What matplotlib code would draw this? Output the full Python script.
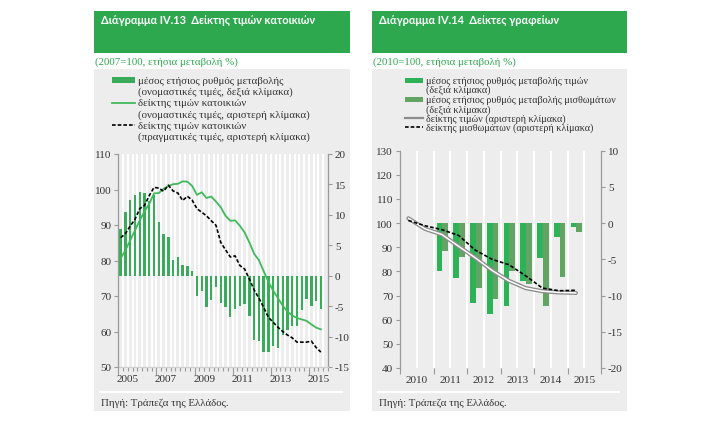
import numpy as np
import matplotlib.pyplot as plt
from matplotlib.patches import Rectangle
from matplotlib.lines import Line2D

plt.rcParams['font.family'] = ['Liberation Serif', 'DejaVu Serif']
plt.rcParams['font.size'] = 8
plt.rcParams['axes.unicode_minus'] = False

# ---- chart IV.13: house prices, quarterly 2005Q1 - 2015Q3
house_start = 2005
house_yoy = [7.7, 10.5, 12.4, 13.2, 13.7, 13.6, 12.2, 13.3, 8.9, 6.8, 6.4, 2.6, 3.0,
             1.7, 1.6, 0.8, -3.3, -2.5, -5.1, -4.0, -1.8, -4.5, -5.1, -6.8, -5.4,
             -5.0, -4.6, -6.6, -10.5, -10.8, -12.6, -12.6, -11.5, -11.9, -9.8, -9.0,
             -8.2, -8.2, -5.6, -3.9, -4.9, -4.2, -5.5]
house_nominal = [80.6, 82.9, 85.7, 88.5, 91.3, 93.8, 96.0, 98.9, 99.0, 100.2, 101.0,
                 101.5, 101.6, 102.3, 102.2, 101.0, 98.5, 99.2, 97.6, 98.0, 96.6,
                 95.0, 92.6, 91.2, 91.3, 89.8, 87.9, 85.1, 81.9, 80.1, 77.0, 74.0,
                 71.5, 69.4, 67.3, 65.6, 64.5, 63.8, 63.4, 63.0, 62.0, 61.1, 60.6]
house_real = [86.4, 87.6, 89.7, 91.6, 94.6, 95.5, 98.3, 100.6, 100.4, 99.5, 101.2,
              99.6, 99.0, 96.9, 98.1, 97.0, 94.6, 93.6, 92.6, 91.2, 89.9, 85.1, 83.0,
              81.0, 81.3, 78.6, 77.6, 74.8, 71.7, 69.4, 66.8, 64.0, 62.6, 61.2, 60.0,
              59.0, 58.2, 57.0, 57.0, 57.0, 57.3, 55.5, 54.2]
house_years = [2005, 2007, 2009, 2011, 2013, 2015]

# ---- chart IV.14: offices, half-yearly
office_start = 2010            # first half-year of the indices
office_price_idx = [102.0, 97.6, 95.3, 90.4, 85.6, 80.4, 76.1, 73.1, 71.8, 71.3, 71.1]
office_rent_idx = [101.1, 98.9, 97.3, 94.9, 88.8, 85.0, 82.8, 78.2, 73.1, 72.0, 72.2]
office_bar_start = 2011        # first half-year of the rates of change
office_price_chg = [-6.6, -7.6, -11.0, -12.6, -11.5, -8.0, -4.8, -1.9, -0.6]
office_rent_chg = [-3.8, -4.7, -8.9, -10.5, -6.6, -8.4, -11.5, -7.4, -1.2]
office_years = [2010, 2011, 2012, 2013, 2014, 2015]

W, H = 713, 427
HEAD = '#2ea84f'
PANEL = '#ededed'
BAR = '#3aab5b'
LINE = '#40b95c'
PRICE = '#2db257'
RENT = '#62a463'
SPINE = '#9a9a9a'
TXT = '#333333'


def px(x, y):
    return x / W, 1 - y / H


def rect(fig, x0, y0, x1, y1, color, z=-2):
    fig.add_artist(Rectangle(px(x0, y1), (x1 - x0) / W, (y1 - y0) / H,
                             transform=fig.transFigure, color=color, lw=0, zorder=z))


def fline(fig, x0, x1, y, **kw):
    fig.add_artist(Line2D([x0 / W, x1 / W], [1 - y / H, 1 - y / H],
                          transform=fig.transFigure, **kw))


fig = plt.figure(figsize=(W / 100, H / 100), dpi=100)

for left, right, title, sub in [
        (94.3, 350, 'Διάγραμμα IV.13  Δείκτης τιμών κατοικιών', '(2007=100, ετήσια μεταβολή %)'),
        (371.7, 626.7, 'Διάγραμμα IV.14  Δείκτες γραφείων', '(2010=100, ετήσια μεταβολή %)')]:
    rect(fig, left, 11.7, right, 54, HEAD)
    rect(fig, left, 70, right, 412.3, PANEL)
    fig.text(*px(left + 6.8, 21), title, color='white', family='Lato',
             weight='bold', fontsize=7.9, va='center')
    fig.text(*px(left + 1, 62), sub, color=HEAD, fontsize=7.8, va='center')
    fline(fig, left + 6, right - 8, 393.3, color='white', lw=1.6)
    fig.text(*px(left + 7, 403.3), 'Πηγή: Τράπεζα της Ελλάδος.', color=TXT,
             fontsize=7.8, va='center')

# legend of IV.13
rect(fig, 111.7, 78.3, 135, 83.5, BAR, z=3)
fline(fig, 111.7, 135, 103.6, color=LINE, lw=1.3, zorder=3)
fline(fig, 111.7, 135, 126.3, color='black', lw=1.2, ls=(0, (2.2, 1.2)), zorder=3)
for y, s in zip([81, 92.3, 103.6, 115, 126.3, 137.6],
                ['μέσος ετήσιος ρυθμός μεταβολής', '(ονομαστικές τιμές, δεξιά κλίμακα)',
                 'δείκτης τιμών κατοικιών', '(ονομαστικές τιμές, αριστερή κλίμακα)',
                 'δείκτης τιμών κατοικιών', '(πραγματικές τιμές, αριστερή κλίμακα)']):
    fig.text(*px(138.5, y), s, color=TXT, fontsize=7.8, va='center')

# legend of IV.14
rect(fig, 405, 78.5, 423.3, 83.5, PRICE, z=3)
rect(fig, 405, 98, 423.3, 103, RENT, z=3)
fline(fig, 405, 423.3, 119.2, color='#8c8c8c', lw=1.6, zorder=3)
fline(fig, 405, 423.3, 127.8, color='black', lw=1.2, ls=(0, (2.2, 1.2)), zorder=3)
for y, s in zip([81, 90.6, 100.4, 110, 119.2, 127.8],
                ['μέσος ετήσιος ρυθμός μεταβολής τιμών', '(δεξιά κλίμακα)',
                 'μέσος ετήσιος ρυθμός μεταβολής μισθωμάτων', '(δεξιά κλίμακα)',
                 'δείκτης τιμών (αριστερή κλίμακα)', 'δείκτης μισθωμάτων (αριστερή κλίμακα)']):
    fig.text(*px(425.5, y), s, color=TXT, fontsize=7.3, va='center')


def style(ax):
    ax.patch.set_visible(False)
    for s in ax.spines.values():
        s.set_visible(False)
        s.set_color(SPINE)
        s.set_linewidth(0.9)
    ax.tick_params(colors=SPINE, labelcolor=TXT, labelsize=8, direction='out', width=0.8)


# ---------- IV.13
pos1 = [118.3 / W, 1 - 368 / H, 209.7 / W, 213 / H]
ax_b = fig.add_axes(pos1)
ax_l = fig.add_axes(pos1)
style(ax_b)
style(ax_l)
hx = house_start + (np.arange(len(house_yoy)) + 0.5) / 4
for q in np.arange(2005.25, 2016, 0.25):
    ax_b.axvline(q, color='white', lw=1.4, zorder=1)
ax_b.bar(hx, house_yoy, width=0.125, color=BAR, zorder=2)
ax_b.set_xlim(2005, 2016)
ax_b.set_ylim(-15, 20)
ax_b.set_yticks(range(-15, 21, 5))
ax_b.yaxis.tick_right()
ax_b.tick_params(axis='y', length=3, pad=2)
ax_b.spines['right'].set_visible(True)
ax_b.spines['bottom'].set_visible(True)
ax_b.spines['bottom'].set_color('#d0d0d0')
ax_b.set_xticks(range(2005, 2016, 2))
ax_b.set_xticks(np.arange(2005, 2016.01, 0.25), minor=True)
ax_b.tick_params(axis='x', which='major', length=6, labelbottom=False)
ax_b.tick_params(axis='x', which='minor', length=3, color=SPINE, width=0.8)

ax_l.plot(hx, house_nominal, color=LINE, lw=1.3, zorder=3)
ax_l.plot(hx, house_real, color='black', lw=1.2, ls=(0, (2.2, 1.2)), zorder=4)
ax_l.set_xlim(2005, 2016)
ax_l.set_ylim(50, 110)
ax_l.set_yticks(range(50, 111, 10))
ax_l.spines['left'].set_visible(True)
ax_l.tick_params(axis='y', length=3, pad=2)
ax_l.set_xticks([y + 0.5 for y in house_years])
ax_l.set_xticklabels([str(y) for y in house_years])
ax_l.tick_params(axis='x', length=0, pad=5)

# ---------- IV.14
pos2 = [400 / W, 1 - 369 / H, 201 / W, 217.3 / H]
ax_rb = fig.add_axes(pos2)
ax_rl = fig.add_axes(pos2)
style(ax_rb)
style(ax_rl)
for g in np.arange(2010.5, 2016, 0.5):
    ax_rb.axvline(g, color='white', lw=1.5, zorder=1)
bx = office_bar_start + (np.arange(len(office_price_chg)) + 0.5) / 2
ax_rb.bar(bx - 0.07, office_price_chg, width=0.17, color=PRICE, zorder=2)
ax_rb.bar(bx + 0.10, office_rent_chg, width=0.17, color=RENT, zorder=2)
ax_rb.set_xlim(2010, 2016)
ax_rb.set_ylim(-20, 10)
ax_rb.set_yticks(range(-20, 11, 5))
ax_rb.yaxis.tick_right()
ax_rb.tick_params(axis='y', length=3, pad=2)
ax_rb.spines['right'].set_visible(True)
ax_rb.set_xticks(range(2010, 2017))
ax_rb.tick_params(axis='x', length=4, labelbottom=False)

lx = office_start + (np.arange(len(office_price_idx)) + 0.5) / 2
ax_rl.plot(lx, office_price_idx, color='#8c8c8c', lw=3.0, zorder=3,
           solid_capstyle='round', solid_joinstyle='round')
ax_rl.plot(lx, office_price_idx, color='white', lw=1.1, zorder=3.5,
           solid_capstyle='round', solid_joinstyle='round')
ax_rl.plot(lx, office_rent_idx, color='black', lw=1.2, ls=(0, (2.2, 1.2)), zorder=4)
ax_rl.set_xlim(2010, 2016)
ax_rl.set_ylim(40, 130)
ax_rl.set_yticks(range(40, 131, 10))
ax_rl.spines['left'].set_visible(True)
ax_rl.tick_params(axis='y', length=3, pad=2)
ax_rl.set_xticks([y + 0.5 for y in office_years])
ax_rl.set_xticklabels([str(y) for y in office_years])
ax_rl.tick_params(axis='x', length=0, pad=5)

fig.savefig('out.png', dpi=100)
